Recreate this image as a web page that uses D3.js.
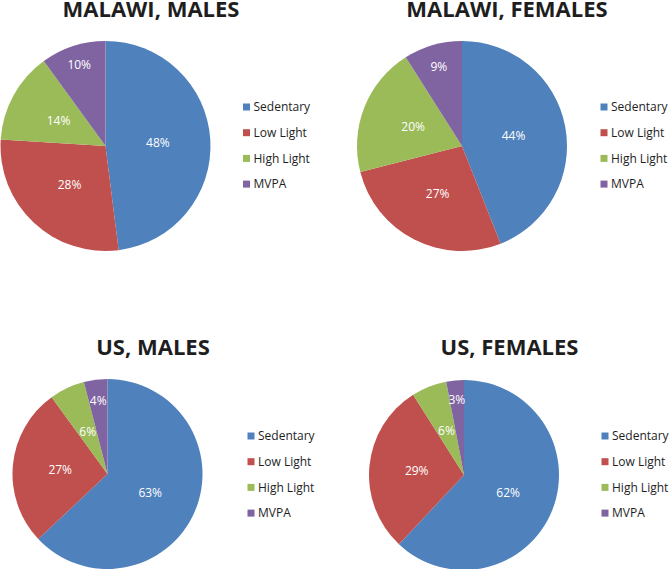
<!DOCTYPE html>
<html><head><meta charset="utf-8">
<script src="https://cdn.jsdelivr.net/npm/d3@7"></script>
<style>body{margin:0;background:#fff}svg{display:block}</style>
</head><body>
<svg id="c" width="670" height="569"></svg>
<script>
const categories = ["Sedentary", "Low Light", "High Light", "MVPA"];
const colors = ["#4F81BD", "#C0504D", "#9BBB59", "#8064A2"];
const titles = ["MALAWI, MALES", "MALAWI, FEMALES", "US, MALES", "US, FEMALES"];
const malawiMales = [48, 28, 14, 10];
const malawiFemales = [44, 27, 20, 9];
const usMales = [63, 27, 6, 4];
const usFemales = [62, 29, 6, 3];
const seriesList = [malawiMales, malawiFemales, usMales, usFemales];

// layout (positions only)
const layout = [
  {cx:105.5, cy:146, r:105, tx:151, ty:16.5, lx:243, ly:107, lr:[0.5,0.5,0.51,0.81]},
  {cx:462, cy:146, r:105, tx:507, ty:16.5, lx:600.5, ly:107, lr:[0.5,0.51,0.5,0.79]},
  {cx:107.5, cy:474, r:95, tx:153, ty:355, lx:247.5, ly:436, lr:[0.49,0.5,0.49,0.78]},
  {cx:464, cy:475, r:95, tx:509.5, ty:355, lx:601.5, ly:436, lr:[0.5,0.5,0.5,0.8]}
];

const svg = d3.select("#c");
const color = d3.scaleOrdinal().domain(categories).range(colors);
const pie = d3.pie().sort(null).value(d => d.v);

seriesList.forEach((vals, i) => {
  const L = layout[i];
  const data = categories.map((c, j) => ({c, v: vals[j]}));
  const arcs = pie(data);
  const arc = d3.arc().innerRadius(0).outerRadius(L.r);
  const g = svg.append("g").attr("transform", `translate(${L.cx},${L.cy})`);
  g.selectAll("path").data(arcs).join("path")
    .attr("d", arc).attr("fill", d => color(d.data.c));
  g.selectAll("text").data(arcs).join("text")
    .attr("transform", (d, j) => {
      const a = (d.startAngle + d.endAngle) / 2;
      const rr = L.r * L.lr[j];
      return `translate(${rr * Math.sin(a)},${-rr * Math.cos(a)})`;
    })
    .attr("text-anchor", "middle").attr("dy", "0.36em")
    .attr("fill", "#fff").attr("font-family", "Open Sans, sans-serif").attr("font-size", 12)
    .text(d => d.data.v + "%");

  svg.append("text").attr("x", L.tx).attr("y", L.ty)
    .attr("text-anchor", "middle").attr("font-family", "Open Sans, sans-serif")
    .attr("font-weight", "bold").attr("font-size", 22).attr("fill", "#1e1e1e")
    .text(titles[i]);

  const lg = svg.append("g").attr("transform", `translate(${L.lx},${L.ly})`);
  categories.forEach((c, j) => {
    const row = lg.append("g").attr("transform", `translate(0,${j*25.7})`);
    row.append("rect").attr("x", 0).attr("y", -3.5).attr("width", 7).attr("height", 7).attr("fill", color(c));
    row.append("text").attr("x", 10.5).attr("y", 0).attr("dy", "0.36em")
      .attr("font-family", "Open Sans, sans-serif").attr("font-size", 12).attr("fill", "#1e1e1e")
      .text(c);
  });
});
</script>
</body></html>
